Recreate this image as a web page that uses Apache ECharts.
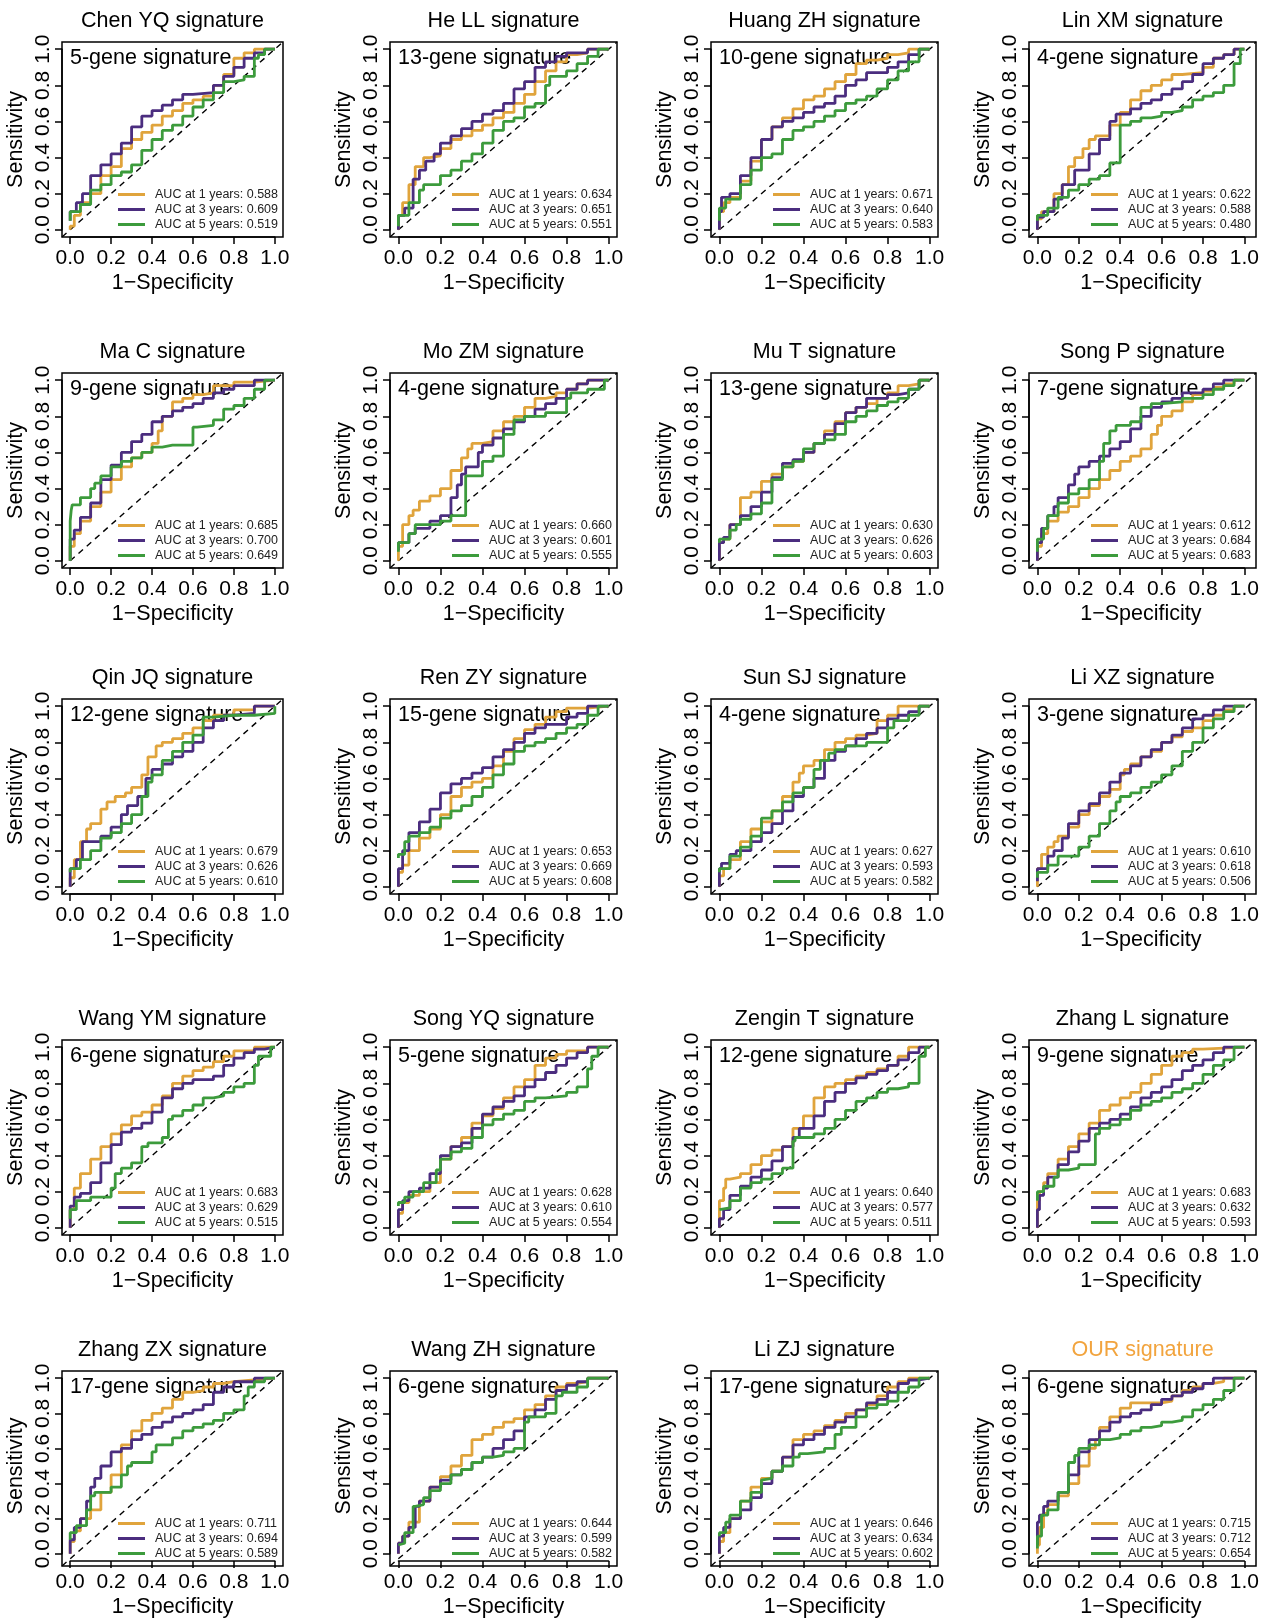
<!DOCTYPE html>
<html><head><meta charset="utf-8">
<script src="https://cdn.jsdelivr.net/npm/echarts@6/dist/echarts.min.js"></script>
<style>html,body{margin:0;padding:0;background:#fff}#c{width:1262px;height:1619px}</style>
</head><body><div id="c"></div>
<script>
const titles = ["Chen YQ signature","He LL signature","Huang ZH signature","Lin XM signature",
"Ma C signature","Mo ZM signature","Mu T signature","Song P signature",
"Qin JQ signature","Ren ZY signature","Sun SJ signature","Li XZ signature",
"Wang YM signature","Song YQ signature","Zengin T signature","Zhang L signature",
"Zhang ZX signature","Wang ZH signature","Li ZJ signature","OUR signature"];
const geneLabels = ["5-gene signature","13-gene signature","10-gene signature","4-gene signature",
"9-gene signature","4-gene signature","13-gene signature","7-gene signature",
"12-gene signature","15-gene signature","4-gene signature","3-gene signature",
"6-gene signature","5-gene signature","12-gene signature","9-gene signature",
"17-gene signature","6-gene signature","17-gene signature","6-gene signature"];
const auc1 = ["0.588","0.634","0.671","0.622","0.685","0.660","0.630","0.612","0.679","0.653","0.627","0.610","0.683","0.628","0.640","0.683","0.711","0.644","0.646","0.715"];
const auc3 = ["0.609","0.651","0.640","0.588","0.700","0.601","0.626","0.684","0.626","0.669","0.593","0.618","0.629","0.610","0.577","0.632","0.694","0.599","0.634","0.712"];
const auc5 = ["0.519","0.551","0.583","0.480","0.649","0.555","0.603","0.683","0.610","0.608","0.582","0.506","0.515","0.554","0.511","0.593","0.589","0.582","0.602","0.654"];
const xTicks = [0, 0.2, 0.4, 0.6, 0.8, 1.0];
const DIAG = [[-0.04,-0.04],[1.04,1.04]];

// 1-year ROC (orange)
const roc1 = [
[[0,0],[0.02,0.02],[0.05,0.08],[0.1,0.15],[0.15,0.2],[0.2,0.3],[0.25,0.35],[0.3,0.45],[0.35,0.5],[0.4,0.54],[0.45,0.58],[0.5,0.63],[0.55,0.66],[0.6,0.7],[0.65,0.72],[0.7,0.74],[0.75,0.8],[0.8,0.86],[0.85,0.95],[0.9,0.98],[0.95,1],[1,1]],
[[0,0],[0.02,0.08],[0.05,0.15],[0.08,0.25],[0.12,0.35],[0.15,0.4],[0.2,0.41],[0.25,0.45],[0.3,0.5],[0.35,0.52],[0.4,0.55],[0.45,0.58],[0.5,0.62],[0.55,0.65],[0.6,0.7],[0.65,0.75],[0.7,0.82],[0.75,0.88],[0.8,0.93],[0.85,0.97],[0.9,0.98],[1,1]],
[[0,0],[0.02,0.1],[0.05,0.15],[0.1,0.18],[0.15,0.27],[0.2,0.38],[0.25,0.5],[0.3,0.57],[0.35,0.62],[0.4,0.67],[0.45,0.72],[0.5,0.74],[0.55,0.78],[0.6,0.82],[0.65,0.86],[0.7,0.92],[0.75,0.94],[0.8,0.95],[0.85,0.97],[0.9,0.98],[1,1]],
[[0,0],[0.02,0.06],[0.08,0.1],[0.12,0.2],[0.15,0.25],[0.18,0.35],[0.22,0.4],[0.25,0.45],[0.28,0.5],[0.35,0.52],[0.4,0.58],[0.45,0.65],[0.5,0.72],[0.55,0.77],[0.6,0.8],[0.65,0.83],[0.7,0.86],[0.8,0.87],[0.85,0.9],[0.9,0.95],[0.95,0.97],[1,1]],
[[0,0],[0.02,0.08],[0.05,0.15],[0.1,0.22],[0.15,0.3],[0.2,0.38],[0.25,0.45],[0.3,0.52],[0.35,0.57],[0.4,0.6],[0.43,0.65],[0.45,0.72],[0.5,0.8],[0.55,0.88],[0.6,0.9],[0.65,0.92],[0.7,0.93],[0.8,0.97],[0.9,0.99],[1,1]],
[[0,0],[0.02,0.08],[0.05,0.2],[0.07,0.25],[0.1,0.28],[0.15,0.33],[0.2,0.36],[0.25,0.4],[0.3,0.5],[0.33,0.57],[0.35,0.62],[0.4,0.65],[0.45,0.66],[0.5,0.72],[0.55,0.77],[0.6,0.8],[0.65,0.85],[0.7,0.9],[0.75,0.91],[0.8,0.93],[0.85,0.95],[0.9,0.98],[1,1]],
[[0,0],[0.02,0.1],[0.05,0.12],[0.1,0.2],[0.15,0.35],[0.2,0.38],[0.25,0.44],[0.3,0.48],[0.35,0.52],[0.4,0.55],[0.45,0.6],[0.5,0.65],[0.55,0.72],[0.6,0.77],[0.65,0.82],[0.7,0.85],[0.75,0.87],[0.8,0.9],[0.85,0.93],[0.9,0.97],[0.95,0.98],[1,1]],
[[0,0],[0.02,0.08],[0.05,0.15],[0.1,0.22],[0.15,0.27],[0.2,0.3],[0.25,0.35],[0.3,0.4],[0.35,0.45],[0.4,0.5],[0.45,0.55],[0.5,0.58],[0.55,0.62],[0.58,0.7],[0.6,0.75],[0.65,0.8],[0.7,0.83],[0.75,0.88],[0.8,0.92],[0.85,0.94],[0.9,0.96],[0.95,0.98],[1,1]],
[[0,0],[0.02,0.05],[0.05,0.15],[0.08,0.25],[0.1,0.32],[0.15,0.35],[0.18,0.43],[0.22,0.47],[0.27,0.5],[0.3,0.52],[0.35,0.55],[0.38,0.62],[0.42,0.72],[0.45,0.78],[0.5,0.8],[0.55,0.82],[0.6,0.85],[0.65,0.88],[0.7,0.92],[0.8,0.95],[0.9,0.98],[1,1]],
[[0,0],[0.02,0.08],[0.05,0.12],[0.1,0.2],[0.15,0.27],[0.2,0.32],[0.25,0.4],[0.3,0.5],[0.35,0.55],[0.4,0.58],[0.45,0.6],[0.5,0.67],[0.55,0.75],[0.6,0.82],[0.65,0.87],[0.7,0.9],[0.75,0.94],[0.8,0.97],[0.9,0.99],[1,1]],
[[0,0],[0.02,0.06],[0.05,0.1],[0.1,0.15],[0.15,0.25],[0.2,0.32],[0.25,0.36],[0.3,0.42],[0.35,0.5],[0.38,0.58],[0.4,0.63],[0.45,0.67],[0.5,0.7],[0.55,0.76],[0.6,0.8],[0.65,0.82],[0.7,0.84],[0.75,0.85],[0.8,0.92],[0.85,0.95],[0.9,1],[1,1]],
[[0,0],[0.02,0.1],[0.05,0.18],[0.08,0.22],[0.1,0.25],[0.15,0.28],[0.2,0.33],[0.25,0.4],[0.3,0.45],[0.35,0.5],[0.4,0.54],[0.42,0.62],[0.45,0.65],[0.5,0.68],[0.55,0.72],[0.6,0.75],[0.65,0.8],[0.7,0.83],[0.75,0.86],[0.8,0.88],[0.85,0.92],[0.9,0.95],[0.95,0.98],[1,1]],
[[0,0],[0.02,0.1],[0.05,0.22],[0.1,0.3],[0.15,0.38],[0.2,0.45],[0.25,0.52],[0.3,0.57],[0.35,0.62],[0.4,0.64],[0.45,0.68],[0.5,0.73],[0.55,0.8],[0.6,0.84],[0.65,0.87],[0.7,0.89],[0.75,0.92],[0.8,0.95],[0.9,0.98],[1,1]],
[[0,0],[0.02,0.08],[0.05,0.14],[0.1,0.18],[0.15,0.2],[0.2,0.25],[0.25,0.38],[0.3,0.45],[0.35,0.5],[0.4,0.58],[0.45,0.62],[0.5,0.66],[0.55,0.72],[0.6,0.78],[0.65,0.82],[0.7,0.9],[0.75,0.94],[0.8,0.96],[0.9,0.98],[1,1]],
[[0,0],[0.02,0.15],[0.03,0.22],[0.05,0.27],[0.1,0.28],[0.15,0.3],[0.2,0.35],[0.25,0.4],[0.3,0.43],[0.35,0.45],[0.4,0.55],[0.45,0.62],[0.5,0.72],[0.55,0.78],[0.6,0.8],[0.65,0.82],[0.7,0.84],[0.75,0.86],[0.8,0.88],[0.85,0.9],[0.9,0.95],[0.95,1],[1,1]],
[[0,0],[0.01,0.15],[0.03,0.2],[0.05,0.25],[0.1,0.3],[0.15,0.38],[0.2,0.45],[0.25,0.52],[0.3,0.58],[0.35,0.65],[0.4,0.68],[0.45,0.72],[0.5,0.75],[0.55,0.8],[0.6,0.85],[0.65,0.9],[0.7,0.95],[0.75,0.97],[0.8,0.99],[1,1]],
[[0,0],[0.02,0.07],[0.05,0.13],[0.1,0.2],[0.15,0.25],[0.2,0.35],[0.25,0.45],[0.3,0.62],[0.35,0.7],[0.4,0.76],[0.45,0.8],[0.5,0.83],[0.55,0.88],[0.6,0.92],[0.65,0.93],[0.7,0.95],[0.75,0.97],[0.8,0.98],[0.9,0.99],[1,1]],
[[0,0],[0.02,0.06],[0.05,0.1],[0.1,0.18],[0.15,0.3],[0.2,0.38],[0.25,0.44],[0.3,0.5],[0.35,0.56],[0.4,0.65],[0.45,0.68],[0.5,0.72],[0.55,0.75],[0.6,0.77],[0.65,0.82],[0.7,0.85],[0.75,0.9],[0.8,0.95],[0.85,0.97],[0.9,0.98],[1,1]],
[[0,0],[0.02,0.07],[0.05,0.12],[0.1,0.2],[0.15,0.3],[0.2,0.38],[0.25,0.43],[0.3,0.47],[0.35,0.55],[0.4,0.65],[0.45,0.68],[0.5,0.7],[0.55,0.73],[0.6,0.76],[0.65,0.8],[0.7,0.82],[0.75,0.85],[0.8,0.9],[0.85,0.95],[0.9,0.98],[1,1]],
[[0,0],[0.01,0.05],[0.03,0.15],[0.05,0.23],[0.1,0.28],[0.15,0.33],[0.2,0.4],[0.25,0.5],[0.28,0.6],[0.3,0.65],[0.35,0.72],[0.4,0.78],[0.45,0.83],[0.5,0.86],[0.6,0.86],[0.65,0.87],[0.7,0.9],[0.75,0.93],[0.8,0.95],[0.85,0.97],[0.9,0.98],[1,1]]
];
// 3-year ROC (purple)
const roc3 = [
[[0,0.05],[0.03,0.1],[0.06,0.15],[0.1,0.2],[0.15,0.3],[0.2,0.36],[0.25,0.42],[0.3,0.48],[0.35,0.57],[0.4,0.63],[0.45,0.66],[0.5,0.69],[0.55,0.72],[0.6,0.75],[0.7,0.76],[0.75,0.8],[0.8,0.85],[0.85,0.9],[0.9,0.95],[0.95,0.98],[1,1]],
[[0,0],[0.03,0.08],[0.07,0.12],[0.1,0.28],[0.13,0.33],[0.17,0.38],[0.2,0.42],[0.25,0.48],[0.3,0.52],[0.35,0.56],[0.4,0.6],[0.45,0.64],[0.5,0.66],[0.55,0.7],[0.6,0.78],[0.65,0.82],[0.7,0.9],[0.75,0.93],[0.8,0.96],[0.9,0.98],[1,1]],
[[0,0],[0.01,0.1],[0.05,0.18],[0.1,0.2],[0.15,0.3],[0.2,0.4],[0.25,0.5],[0.3,0.57],[0.35,0.6],[0.4,0.62],[0.45,0.65],[0.5,0.68],[0.55,0.7],[0.6,0.74],[0.65,0.8],[0.7,0.83],[0.8,0.87],[0.85,0.9],[0.9,0.93],[0.95,0.97],[1,1]],
[[0,0],[0.03,0.07],[0.08,0.1],[0.12,0.17],[0.18,0.25],[0.25,0.33],[0.3,0.42],[0.35,0.5],[0.38,0.6],[0.45,0.64],[0.5,0.67],[0.55,0.7],[0.6,0.72],[0.65,0.75],[0.7,0.78],[0.75,0.82],[0.8,0.86],[0.85,0.92],[0.9,0.95],[0.95,0.97],[1,1]],
[[0,0],[0.02,0.12],[0.05,0.17],[0.1,0.24],[0.15,0.32],[0.2,0.45],[0.25,0.53],[0.3,0.6],[0.35,0.66],[0.4,0.7],[0.45,0.77],[0.5,0.8],[0.55,0.83],[0.6,0.85],[0.65,0.87],[0.7,0.9],[0.75,0.93],[0.8,0.95],[0.9,0.97],[1,1]],
[[0,0.06],[0.05,0.1],[0.08,0.15],[0.15,0.18],[0.2,0.22],[0.25,0.25],[0.28,0.35],[0.3,0.42],[0.32,0.48],[0.38,0.52],[0.4,0.6],[0.45,0.64],[0.5,0.68],[0.55,0.73],[0.6,0.77],[0.65,0.8],[0.7,0.84],[0.75,0.87],[0.8,0.9],[0.85,0.95],[0.9,0.98],[1,1]],
[[0,0],[0.02,0.1],[0.05,0.13],[0.1,0.2],[0.15,0.25],[0.2,0.3],[0.25,0.38],[0.3,0.46],[0.35,0.54],[0.4,0.56],[0.45,0.6],[0.5,0.65],[0.55,0.7],[0.6,0.76],[0.65,0.82],[0.7,0.85],[0.8,0.9],[0.85,0.92],[0.9,0.93],[0.95,0.95],[1,1]],
[[0,0],[0.02,0.1],[0.05,0.18],[0.08,0.25],[0.1,0.3],[0.15,0.35],[0.18,0.42],[0.2,0.48],[0.25,0.52],[0.3,0.55],[0.35,0.58],[0.4,0.62],[0.45,0.66],[0.5,0.73],[0.55,0.8],[0.6,0.85],[0.65,0.88],[0.7,0.9],[0.8,0.93],[0.85,0.95],[0.9,0.98],[1,1]],
[[0,0],[0.03,0.1],[0.06,0.15],[0.1,0.25],[0.15,0.25],[0.2,0.28],[0.25,0.33],[0.28,0.4],[0.33,0.45],[0.37,0.5],[0.4,0.6],[0.45,0.65],[0.5,0.68],[0.55,0.72],[0.6,0.75],[0.65,0.8],[0.7,0.88],[0.75,0.92],[0.8,0.95],[0.9,0.96],[1,1]],
[[0,0],[0.02,0.1],[0.05,0.2],[0.1,0.3],[0.15,0.36],[0.2,0.43],[0.25,0.52],[0.3,0.57],[0.35,0.6],[0.4,0.63],[0.45,0.66],[0.5,0.72],[0.55,0.76],[0.6,0.8],[0.65,0.85],[0.7,0.88],[0.8,0.9],[0.85,0.94],[0.9,0.96],[1,1]],
[[0,0],[0.01,0.1],[0.05,0.13],[0.08,0.18],[0.15,0.2],[0.2,0.25],[0.25,0.3],[0.3,0.35],[0.35,0.42],[0.4,0.5],[0.45,0.55],[0.5,0.6],[0.55,0.7],[0.6,0.75],[0.65,0.78],[0.7,0.82],[0.75,0.85],[0.8,0.88],[0.85,0.93],[0.9,0.95],[0.95,0.97],[1,1]],
[[0,0.03],[0.05,0.1],[0.08,0.17],[0.12,0.2],[0.15,0.27],[0.2,0.35],[0.25,0.42],[0.3,0.46],[0.35,0.52],[0.4,0.58],[0.45,0.63],[0.5,0.67],[0.55,0.72],[0.6,0.76],[0.65,0.8],[0.7,0.84],[0.75,0.88],[0.8,0.93],[0.85,0.95],[0.9,0.98],[1,1]],
[[0,0],[0.02,0.12],[0.05,0.17],[0.1,0.19],[0.15,0.25],[0.2,0.36],[0.25,0.46],[0.3,0.53],[0.35,0.55],[0.4,0.58],[0.45,0.64],[0.5,0.72],[0.55,0.77],[0.6,0.8],[0.7,0.82],[0.75,0.84],[0.8,0.9],[0.85,0.94],[0.9,0.97],[0.95,0.99],[1,1]],
[[0,0],[0.02,0.1],[0.05,0.15],[0.1,0.2],[0.15,0.22],[0.2,0.3],[0.25,0.4],[0.3,0.45],[0.35,0.47],[0.4,0.55],[0.45,0.63],[0.5,0.67],[0.55,0.7],[0.6,0.73],[0.65,0.78],[0.7,0.82],[0.75,0.86],[0.8,0.9],[0.85,0.94],[0.9,0.97],[1,1]],
[[0,0],[0.02,0.05],[0.05,0.1],[0.1,0.18],[0.15,0.23],[0.2,0.28],[0.25,0.32],[0.3,0.37],[0.35,0.45],[0.38,0.5],[0.45,0.55],[0.5,0.62],[0.55,0.7],[0.6,0.75],[0.65,0.8],[0.7,0.83],[0.75,0.85],[0.8,0.87],[0.85,0.9],[0.9,0.93],[0.95,0.97],[1,1]],
[[0,0],[0.01,0.1],[0.03,0.18],[0.05,0.22],[0.1,0.28],[0.15,0.35],[0.2,0.42],[0.25,0.48],[0.3,0.55],[0.35,0.58],[0.4,0.6],[0.45,0.63],[0.5,0.67],[0.55,0.72],[0.6,0.75],[0.65,0.78],[0.7,0.82],[0.75,0.87],[0.8,0.9],[0.85,0.93],[0.9,0.97],[1,1]],
[[0,0],[0.02,0.08],[0.05,0.15],[0.08,0.2],[0.1,0.3],[0.12,0.38],[0.15,0.43],[0.2,0.5],[0.25,0.58],[0.3,0.6],[0.35,0.65],[0.4,0.68],[0.45,0.72],[0.5,0.75],[0.55,0.78],[0.6,0.8],[0.65,0.82],[0.7,0.85],[0.75,0.92],[0.8,0.95],[0.9,0.98],[1,1]],
[[0,0],[0.02,0.06],[0.05,0.1],[0.08,0.15],[0.1,0.27],[0.15,0.3],[0.2,0.38],[0.25,0.42],[0.3,0.45],[0.35,0.48],[0.4,0.52],[0.45,0.55],[0.5,0.6],[0.55,0.65],[0.6,0.7],[0.65,0.78],[0.7,0.82],[0.75,0.88],[0.8,0.93],[0.85,0.96],[0.9,0.98],[1,1]],
[[0,0],[0.02,0.1],[0.05,0.15],[0.1,0.2],[0.15,0.25],[0.2,0.32],[0.25,0.4],[0.3,0.47],[0.35,0.55],[0.4,0.62],[0.45,0.65],[0.5,0.68],[0.55,0.72],[0.6,0.75],[0.65,0.78],[0.7,0.82],[0.75,0.86],[0.8,0.88],[0.85,0.92],[0.9,0.97],[0.95,0.99],[1,1]],
[[0,0.05],[0.01,0.18],[0.03,0.22],[0.05,0.27],[0.1,0.3],[0.15,0.35],[0.2,0.45],[0.25,0.58],[0.3,0.65],[0.35,0.7],[0.4,0.75],[0.45,0.78],[0.5,0.8],[0.55,0.82],[0.6,0.85],[0.65,0.88],[0.7,0.9],[0.75,0.92],[0.8,0.94],[0.85,0.97],[0.9,1],[1,1]]
];
// 5-year ROC (green)
const roc5 = [
[[0,0.05],[0.05,0.1],[0.1,0.14],[0.15,0.22],[0.2,0.25],[0.25,0.3],[0.3,0.32],[0.35,0.36],[0.4,0.44],[0.45,0.5],[0.5,0.55],[0.55,0.58],[0.6,0.63],[0.65,0.68],[0.7,0.72],[0.75,0.76],[0.8,0.82],[0.85,0.83],[0.9,0.85],[0.92,0.95],[0.95,0.97],[1,1]],
[[0,0.02],[0.05,0.08],[0.1,0.15],[0.12,0.22],[0.2,0.25],[0.25,0.3],[0.3,0.33],[0.35,0.38],[0.4,0.42],[0.45,0.48],[0.5,0.55],[0.55,0.6],[0.6,0.62],[0.65,0.68],[0.7,0.7],[0.72,0.8],[0.8,0.85],[0.85,0.88],[0.9,0.92],[0.95,0.96],[1,1]],
[[0,0.05],[0.03,0.12],[0.1,0.17],[0.15,0.25],[0.2,0.33],[0.25,0.4],[0.3,0.42],[0.35,0.5],[0.4,0.55],[0.45,0.57],[0.5,0.6],[0.55,0.63],[0.6,0.66],[0.65,0.7],[0.7,0.72],[0.75,0.74],[0.8,0.78],[0.85,0.83],[0.9,0.88],[0.95,0.93],[1,1]],
[[0,0.05],[0.05,0.08],[0.1,0.12],[0.15,0.18],[0.2,0.22],[0.25,0.25],[0.3,0.28],[0.35,0.3],[0.4,0.37],[0.4,0.55],[0.45,0.58],[0.5,0.6],[0.55,0.62],[0.6,0.63],[0.65,0.65],[0.7,0.66],[0.75,0.68],[0.8,0.72],[0.85,0.74],[0.9,0.76],[0.95,0.8],[0.98,0.92],[1,1]],
[[0,0],[0.005,0.22],[0.01,0.28],[0.05,0.31],[0.1,0.35],[0.12,0.4],[0.15,0.43],[0.2,0.47],[0.25,0.52],[0.3,0.55],[0.35,0.57],[0.4,0.6],[0.45,0.63],[0.5,0.64],[0.6,0.64],[0.62,0.74],[0.7,0.75],[0.75,0.78],[0.8,0.84],[0.85,0.86],[0.9,0.9],[0.95,0.95],[1,1]],
[[0,0.05],[0.05,0.1],[0.08,0.15],[0.2,0.2],[0.25,0.22],[0.32,0.25],[0.32,0.45],[0.4,0.47],[0.45,0.55],[0.5,0.58],[0.55,0.7],[0.6,0.78],[0.7,0.8],[0.8,0.82],[0.82,0.9],[0.9,0.93],[0.98,0.95],[1,1]],
[[0,0.1],[0.05,0.12],[0.08,0.17],[0.1,0.2],[0.15,0.23],[0.2,0.26],[0.25,0.32],[0.3,0.45],[0.35,0.52],[0.4,0.55],[0.45,0.62],[0.5,0.65],[0.55,0.67],[0.6,0.7],[0.65,0.77],[0.7,0.8],[0.75,0.83],[0.8,0.86],[0.85,0.88],[0.9,0.9],[0.95,0.95],[1,1]],
[[0,0.05],[0.03,0.12],[0.05,0.18],[0.1,0.25],[0.15,0.32],[0.2,0.37],[0.25,0.4],[0.3,0.45],[0.32,0.55],[0.35,0.65],[0.38,0.72],[0.45,0.75],[0.5,0.77],[0.55,0.85],[0.6,0.87],[0.7,0.88],[0.8,0.9],[0.85,0.92],[0.9,0.95],[0.95,0.97],[1,1]],
[[0,0.08],[0.05,0.1],[0.1,0.15],[0.15,0.2],[0.2,0.27],[0.25,0.3],[0.3,0.35],[0.35,0.4],[0.38,0.5],[0.4,0.58],[0.45,0.62],[0.5,0.7],[0.55,0.75],[0.6,0.8],[0.65,0.84],[0.65,0.92],[0.7,0.94],[0.8,0.95],[0.9,0.95],[1,0.96],[1,1]],
[[0,0.16],[0.03,0.18],[0.05,0.25],[0.1,0.28],[0.15,0.3],[0.2,0.33],[0.25,0.38],[0.3,0.42],[0.35,0.45],[0.4,0.5],[0.45,0.55],[0.5,0.62],[0.55,0.68],[0.6,0.75],[0.65,0.78],[0.7,0.8],[0.75,0.82],[0.8,0.85],[0.85,0.88],[0.9,0.9],[0.95,0.95],[1,1]],
[[0,0.08],[0.05,0.1],[0.1,0.17],[0.15,0.22],[0.2,0.28],[0.25,0.38],[0.3,0.42],[0.35,0.47],[0.4,0.52],[0.45,0.55],[0.48,0.65],[0.52,0.7],[0.55,0.74],[0.6,0.76],[0.7,0.78],[0.8,0.8],[0.83,0.88],[0.9,0.92],[0.95,0.95],[1,1]],
[[0,0.05],[0.05,0.08],[0.1,0.12],[0.2,0.17],[0.25,0.22],[0.3,0.28],[0.35,0.35],[0.38,0.42],[0.4,0.47],[0.45,0.5],[0.5,0.52],[0.55,0.55],[0.6,0.58],[0.65,0.62],[0.7,0.67],[0.75,0.75],[0.8,0.8],[0.85,0.88],[0.9,0.93],[0.95,0.97],[1,1]],
[[0,0.05],[0.03,0.1],[0.1,0.15],[0.2,0.17],[0.22,0.22],[0.25,0.3],[0.3,0.33],[0.35,0.36],[0.38,0.45],[0.45,0.47],[0.48,0.5],[0.5,0.6],[0.55,0.62],[0.6,0.65],[0.65,0.68],[0.7,0.72],[0.75,0.73],[0.8,0.75],[0.85,0.78],[0.9,0.8],[0.92,0.9],[0.98,0.95],[1,1]],
[[0,0.12],[0.03,0.14],[0.07,0.17],[0.12,0.2],[0.18,0.25],[0.2,0.32],[0.25,0.38],[0.3,0.42],[0.35,0.44],[0.4,0.5],[0.45,0.57],[0.5,0.6],[0.55,0.63],[0.6,0.65],[0.65,0.7],[0.7,0.72],[0.8,0.73],[0.85,0.75],[0.9,0.78],[0.92,0.88],[0.95,0.95],[1,1]],
[[0,0.1],[0.05,0.11],[0.1,0.15],[0.15,0.22],[0.2,0.25],[0.25,0.27],[0.3,0.3],[0.35,0.33],[0.36,0.48],[0.4,0.5],[0.45,0.5],[0.5,0.52],[0.55,0.55],[0.6,0.6],[0.65,0.65],[0.7,0.7],[0.75,0.72],[0.8,0.75],[0.85,0.77],[0.9,0.78],[0.95,0.8],[0.95,0.88],[0.98,0.95],[1,1]],
[[0,0.15],[0.03,0.2],[0.08,0.23],[0.1,0.28],[0.15,0.32],[0.2,0.33],[0.28,0.35],[0.3,0.52],[0.35,0.55],[0.4,0.57],[0.45,0.6],[0.5,0.65],[0.55,0.68],[0.6,0.7],[0.65,0.72],[0.7,0.75],[0.75,0.77],[0.8,0.8],[0.85,0.85],[0.9,0.9],[0.95,0.93],[1,1]],
[[0,0.08],[0.03,0.12],[0.08,0.16],[0.1,0.25],[0.12,0.33],[0.2,0.35],[0.25,0.38],[0.28,0.45],[0.3,0.5],[0.4,0.52],[0.42,0.58],[0.5,0.62],[0.55,0.66],[0.6,0.7],[0.65,0.72],[0.7,0.74],[0.75,0.76],[0.8,0.8],[0.85,0.82],[0.87,0.9],[0.9,0.95],[0.95,0.98],[1,1]],
[[0,0.05],[0.03,0.06],[0.07,0.12],[0.08,0.27],[0.12,0.28],[0.15,0.32],[0.2,0.36],[0.25,0.4],[0.3,0.45],[0.35,0.48],[0.4,0.52],[0.45,0.55],[0.5,0.56],[0.55,0.58],[0.6,0.6],[0.62,0.75],[0.7,0.78],[0.75,0.8],[0.78,0.9],[0.85,0.92],[0.9,0.95],[1,1]],
[[0,0.1],[0.03,0.12],[0.05,0.18],[0.1,0.22],[0.15,0.3],[0.2,0.35],[0.2,0.42],[0.25,0.43],[0.3,0.47],[0.35,0.5],[0.38,0.55],[0.42,0.57],[0.5,0.58],[0.55,0.6],[0.58,0.68],[0.65,0.72],[0.7,0.78],[0.75,0.83],[0.8,0.85],[0.85,0.87],[0.9,0.92],[0.95,0.95],[1,1]],
[[0,0.03],[0.02,0.1],[0.05,0.22],[0.1,0.25],[0.15,0.35],[0.15,0.45],[0.18,0.52],[0.2,0.56],[0.25,0.6],[0.3,0.62],[0.35,0.65],[0.4,0.66],[0.45,0.68],[0.5,0.7],[0.55,0.72],[0.6,0.73],[0.65,0.75],[0.7,0.76],[0.75,0.78],[0.8,0.82],[0.85,0.85],[0.9,0.88],[0.95,0.93],[1,1]]
];

const COLORS = ['#E0A43C', '#4B2D7F', '#3C9B3C'];
const OUR_COLOR = '#F2A43E';
const FONT = "'Liberation Sans', Arial, Helvetica, sans-serif";

const W = 1262;
const colLeft = [62, 390, 711, 1029];
const colWidth = [221, 227, 227, 227];
const rowTop = [42, 373, 699, 1040, 1371];
const BOX_H = 195;
const PADF = 0.04 / 1.08;

const grid = [], xAxis = [], yAxis = [], series = [], title = [], legend = [];
titles.forEach((t, p) => {
  const r = Math.floor(p / 4), c = p % 4;
  const bl = colLeft[c], bt = rowTop[r], BOX_W = colWidth[c];
  const padX = BOX_W * PADF, padY = BOX_H * PADF;
  const gi = grid.length;
  grid.push({left: bl + padX, top: bt + padY, width: BOX_W / 1.08, height: BOX_H / 1.08, show: false});
  grid.push({left: bl, top: bt, width: BOX_W, height: BOX_H, show: true, borderColor: '#000', borderWidth: 1.5, backgroundColor: 'rgba(0,0,0,0)'});
  const lineSt = {color: '#000', width: 1.5};
  xAxis.push({gridIndex: gi, type: 'value', min: 0, max: 1, interval: 0.2, position: 'bottom', offset: padY,
    axisLine: {show: true, onZero: false, lineStyle: lineSt},
    axisTick: {show: true, inside: false, length: 7, lineStyle: lineSt},
    axisLabel: {fontSize: 21, color: '#000', margin: 11, fontFamily: FONT, formatter: v => v.toFixed(1)},
    splitLine: {show: false},
    name: '1\u2212Specificity', nameLocation: 'middle', nameGap: 35,
    nameTextStyle: {fontSize: 21.5, color: '#000', fontFamily: FONT}});
  yAxis.push({gridIndex: gi, type: 'value', min: 0, max: 1, interval: 0.2, position: 'left', offset: padX,
    axisLine: {show: true, onZero: false, lineStyle: lineSt},
    axisTick: {show: true, inside: false, length: 7, lineStyle: lineSt},
    axisLabel: {fontSize: 21, color: '#000', margin: 8, rotate: 90, fontFamily: FONT, formatter: v => v.toFixed(1)},
    splitLine: {show: false},
    name: 'Sensitivity', nameLocation: 'middle', nameGap: 35, nameRotate: 90,
    nameTextStyle: {fontSize: 21.5, color: '#000', fontFamily: FONT}});
  xAxis.push({gridIndex: gi + 1, type: 'value', min: -0.04, max: 1.04, show: false});
  yAxis.push({gridIndex: gi + 1, type: 'value', min: -0.04, max: 1.04, show: false});

  const names = ['AUC at 1 years: ' + auc1[p], 'AUC at 3 years: ' + auc3[p], 'AUC at 5 years: ' + auc5[p]];
  [roc1[p], roc3[p], roc5[p]].forEach((d, k) => {
    series.push({type: 'line', name: names[k], xAxisIndex: gi, yAxisIndex: gi, data: d, step: 'start',
      symbol: 'none', clip: false, color: COLORS[k], z: 3 + k,
      lineStyle: {color: COLORS[k], width: 2.8}, itemStyle: {color: COLORS[k]}, animation: false});
  });
  series.push({type: 'line', name: 'diag' + p, xAxisIndex: gi + 1, yAxisIndex: gi + 1, data: DIAG,
    symbol: 'none', clip: true, z: 2, lineStyle: {color: '#000', width: 1.4, type: [6, 5]}, animation: false});

  title.push({text: t, left: bl + BOX_W / 2, top: bt - 34, textAlign: 'center', padding: 0,
    textStyle: {fontSize: 21.5, fontWeight: 'normal', color: p === 19 ? OUR_COLOR : '#000', fontFamily: FONT, lineHeight: 26}});
  title.push({text: geneLabels[p], left: bl + 8, top: bt + 3, padding: 0, z: 1,
    textStyle: {fontSize: 21.5, fontWeight: 'normal', color: '#000', fontFamily: FONT, lineHeight: 26}});

  legend.push({orient: 'vertical', right: W - (bl + BOX_W - 5), top: bt + 146, padding: 0, itemGap: 2,
    itemWidth: 27, itemHeight: 3, icon: 'rect', selectedMode: false, data: names,
    textStyle: {fontSize: 12.5, lineHeight: 13, color: '#222', fontFamily: FONT, padding: [0, 0, 0, 5]}});
});

const chart = echarts.init(document.getElementById('c'), null, {renderer: 'canvas'});
chart.setOption({animation: false, backgroundColor: '#fff', textStyle: {fontFamily: FONT},
  grid, xAxis, yAxis, series, title, legend});
</script></body></html>
